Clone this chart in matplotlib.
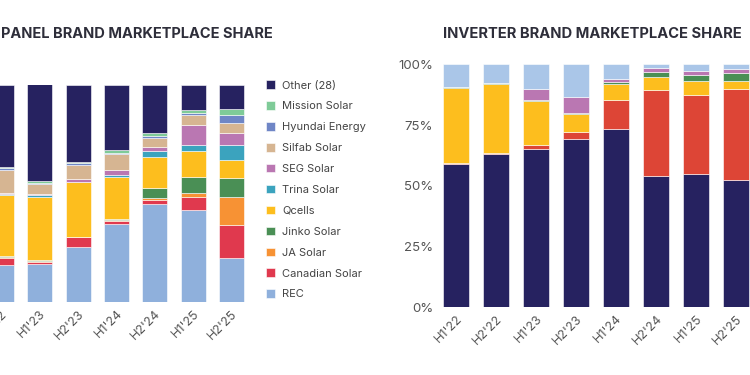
import numpy as np
import matplotlib
matplotlib.use("Agg")
import matplotlib.pyplot as plt
from matplotlib.transforms import ScaledTranslation

plt.rcParams['font.family'] = ['Inter', 'DejaVu Sans']

# ---- panel brand share (%), bottom to top ----
panel_periods = ["H2'22", "H1'23", "H2'23", "H1'24", "H2'24", "H1'25", "H2'25"]
rec = [17.0, 17.6, 25.5, 35.9, 45.2, 42.3, 20.2]
canadian = [3.4, 1.1, 4.3, 1.5, 1.6, 5.9, 15.5]
ja = [0.3, 0.2, 0.1, 0.2, 1.1, 1.8, 12.9]
jinko = [0.5, 0.5, 0.3, 0.9, 4.6, 7.4, 8.3]
qcells = [28.0, 29.2, 25.0, 19.3, 14.2, 12.2, 8.4]
trina = [0.6, 0.7, 0.3, 0.5, 2.6, 2.5, 6.8]
seg = [0.2, 0.6, 1.1, 2.7, 2.2, 9.3, 5.5]
silfab = [11.0, 4.3, 6.3, 7.1, 4.1, 4.5, 4.6]
hyundai = [0.7, 0.8, 0.9, 0.3, 0.6, 0.9, 3.8]
mission = [0.6, 0.6, 0.6, 1.5, 1.4, 1.7, 2.9]
other = [37.7, 44.5, 35.6, 30.1, 22.4, 11.5, 11.0]

panel_series = [
    ("REC", rec, "#8fb0dc"),
    ("Canadian Solar", canadian, "#e0394e"),
    ("JA Solar", ja, "#f79234"),
    ("Jinko Solar", jinko, "#4a8f55"),
    ("Qcells", qcells, "#fdbe1e"),
    ("Trina Solar", trina, "#3ba3be"),
    ("SEG Solar", seg, "#ba77b2"),
    ("Silfab Solar", silfab, "#d6b592"),
    ("Hyundai Energy", hyundai, "#6f86c6"),
    ("Mission Solar", mission, "#7fcb98"),
    ("Other (28)", other, "#262260"),
]

# ---- inverter brand share (%), bottom to top ----
inv_periods = ["H1'22", "H2'22", "H1'23", "H2'23", "H1'24", "H2'24", "H1'25", "H2'25"]
inv_navy = [58.8, 63.0, 65.0, 69.3, 73.3, 54.2, 54.7, 52.3]
inv_red = [0.5, 0.4, 1.7, 2.7, 12.2, 35.1, 32.5, 37.7]
inv_yellow = [30.8, 28.4, 18.1, 7.7, 6.3, 5.5, 5.8, 3.0]
inv_green = [0.6, 0.5, 0.5, 0.4, 0.9, 2.2, 2.5, 3.3]
inv_pink = [0.0, 0.0, 4.4, 6.6, 1.1, 1.5, 1.6, 1.6]
inv_lightblue = [9.3, 7.7, 10.3, 13.3, 6.2, 1.5, 2.9, 2.1]

inv_series = [
    (inv_navy, "#262260"),
    (inv_red, "#dd4536"),
    (inv_yellow, "#fdbe1e"),
    (inv_green, "#4a8f55"),
    (inv_pink, "#ba77b2"),
    (inv_lightblue, "#aac6e8"),
]

title_color = "#2e2e3a"
tick_color = "#555555"

fig = plt.figure(figsize=(7.5, 3.75), dpi=100)


def style_xticks(ax, labels):
    ax.set_xticks(np.arange(len(labels)))
    ax.set_xticklabels(labels, rotation=45, ha='right', va='top',
                       rotation_mode='anchor', fontsize=9, color=tick_color)
    off = ScaledTranslation(8 / 72, -2 / 72, fig.dpi_scale_trans)
    for lab in ax.get_xticklabels():
        lab.set_transform(lab.get_transform() + off)
    ax.tick_params(axis='x', length=0, pad=4)
    for s in ax.spines.values():
        s.set_visible(False)


# left chart (cut off on the left side)
ax1 = fig.add_axes([0.0, 0.1939, 0.34, 0.5803])
x = np.arange(len(panel_periods))
bottom = np.zeros(len(panel_periods))
handles = []
for name, vals, col in panel_series:
    b = ax1.bar(x, vals, bottom=bottom, width=0.65, color=col,
                edgecolor='white', linewidth=0.4, label=name)
    handles.append(b)
    bottom += np.array(vals)
ax1.set_xlim(-0.039, 6.613)
ax1.set_ylim(0, 100)
ax1.set_yticks([])
style_xticks(ax1, panel_periods)

fig.text(1 / 750, 1 - 34 / 375, "PANEL BRAND MARKETPLACE SHARE", ha='left',
         va='center', fontsize=10.5, fontweight='bold', color=title_color)

leg = fig.legend(handles[::-1], [s[0] for s in panel_series][::-1],
                 loc='upper left', bbox_to_anchor=(262 / 750, 1 - 76 / 375),
                 frameon=False, fontsize=8, handlelength=0.8, handleheight=0.8,
                 handletextpad=0.6, labelspacing=0.97, borderaxespad=0)
for t in leg.get_texts():
    t.set_color("#444444")

# right chart (cut off on the right side)
ax2 = fig.add_axes([440 / 750, 0.1805, 320 / 750, 0.648])
x2 = np.arange(len(inv_periods))
bottom = np.zeros(len(inv_periods))
for vals, col in inv_series:
    ax2.bar(x2, vals, bottom=bottom, width=0.667, color=col,
            edgecolor='white', linewidth=0.4)
    bottom += np.array(vals)
ax2.set_xlim(-0.4, 7.6)
ax2.set_ylim(0, 100)
ax2.set_yticks([0, 25, 50, 75, 100])
ax2.set_yticklabels(["0%", "25%", "50%", "75%", "100%"], fontsize=9.5, color=tick_color)
ax2.tick_params(axis='y', length=0, pad=5)
style_xticks(ax2, inv_periods)

fig.text(443 / 750, 1 - 34 / 375, "INVERTER BRAND MARKETPLACE SHARE", ha='left',
         va='center', fontsize=10.6, fontweight='bold', color=title_color)

fig.savefig("out.png", dpi=100, facecolor='white')
